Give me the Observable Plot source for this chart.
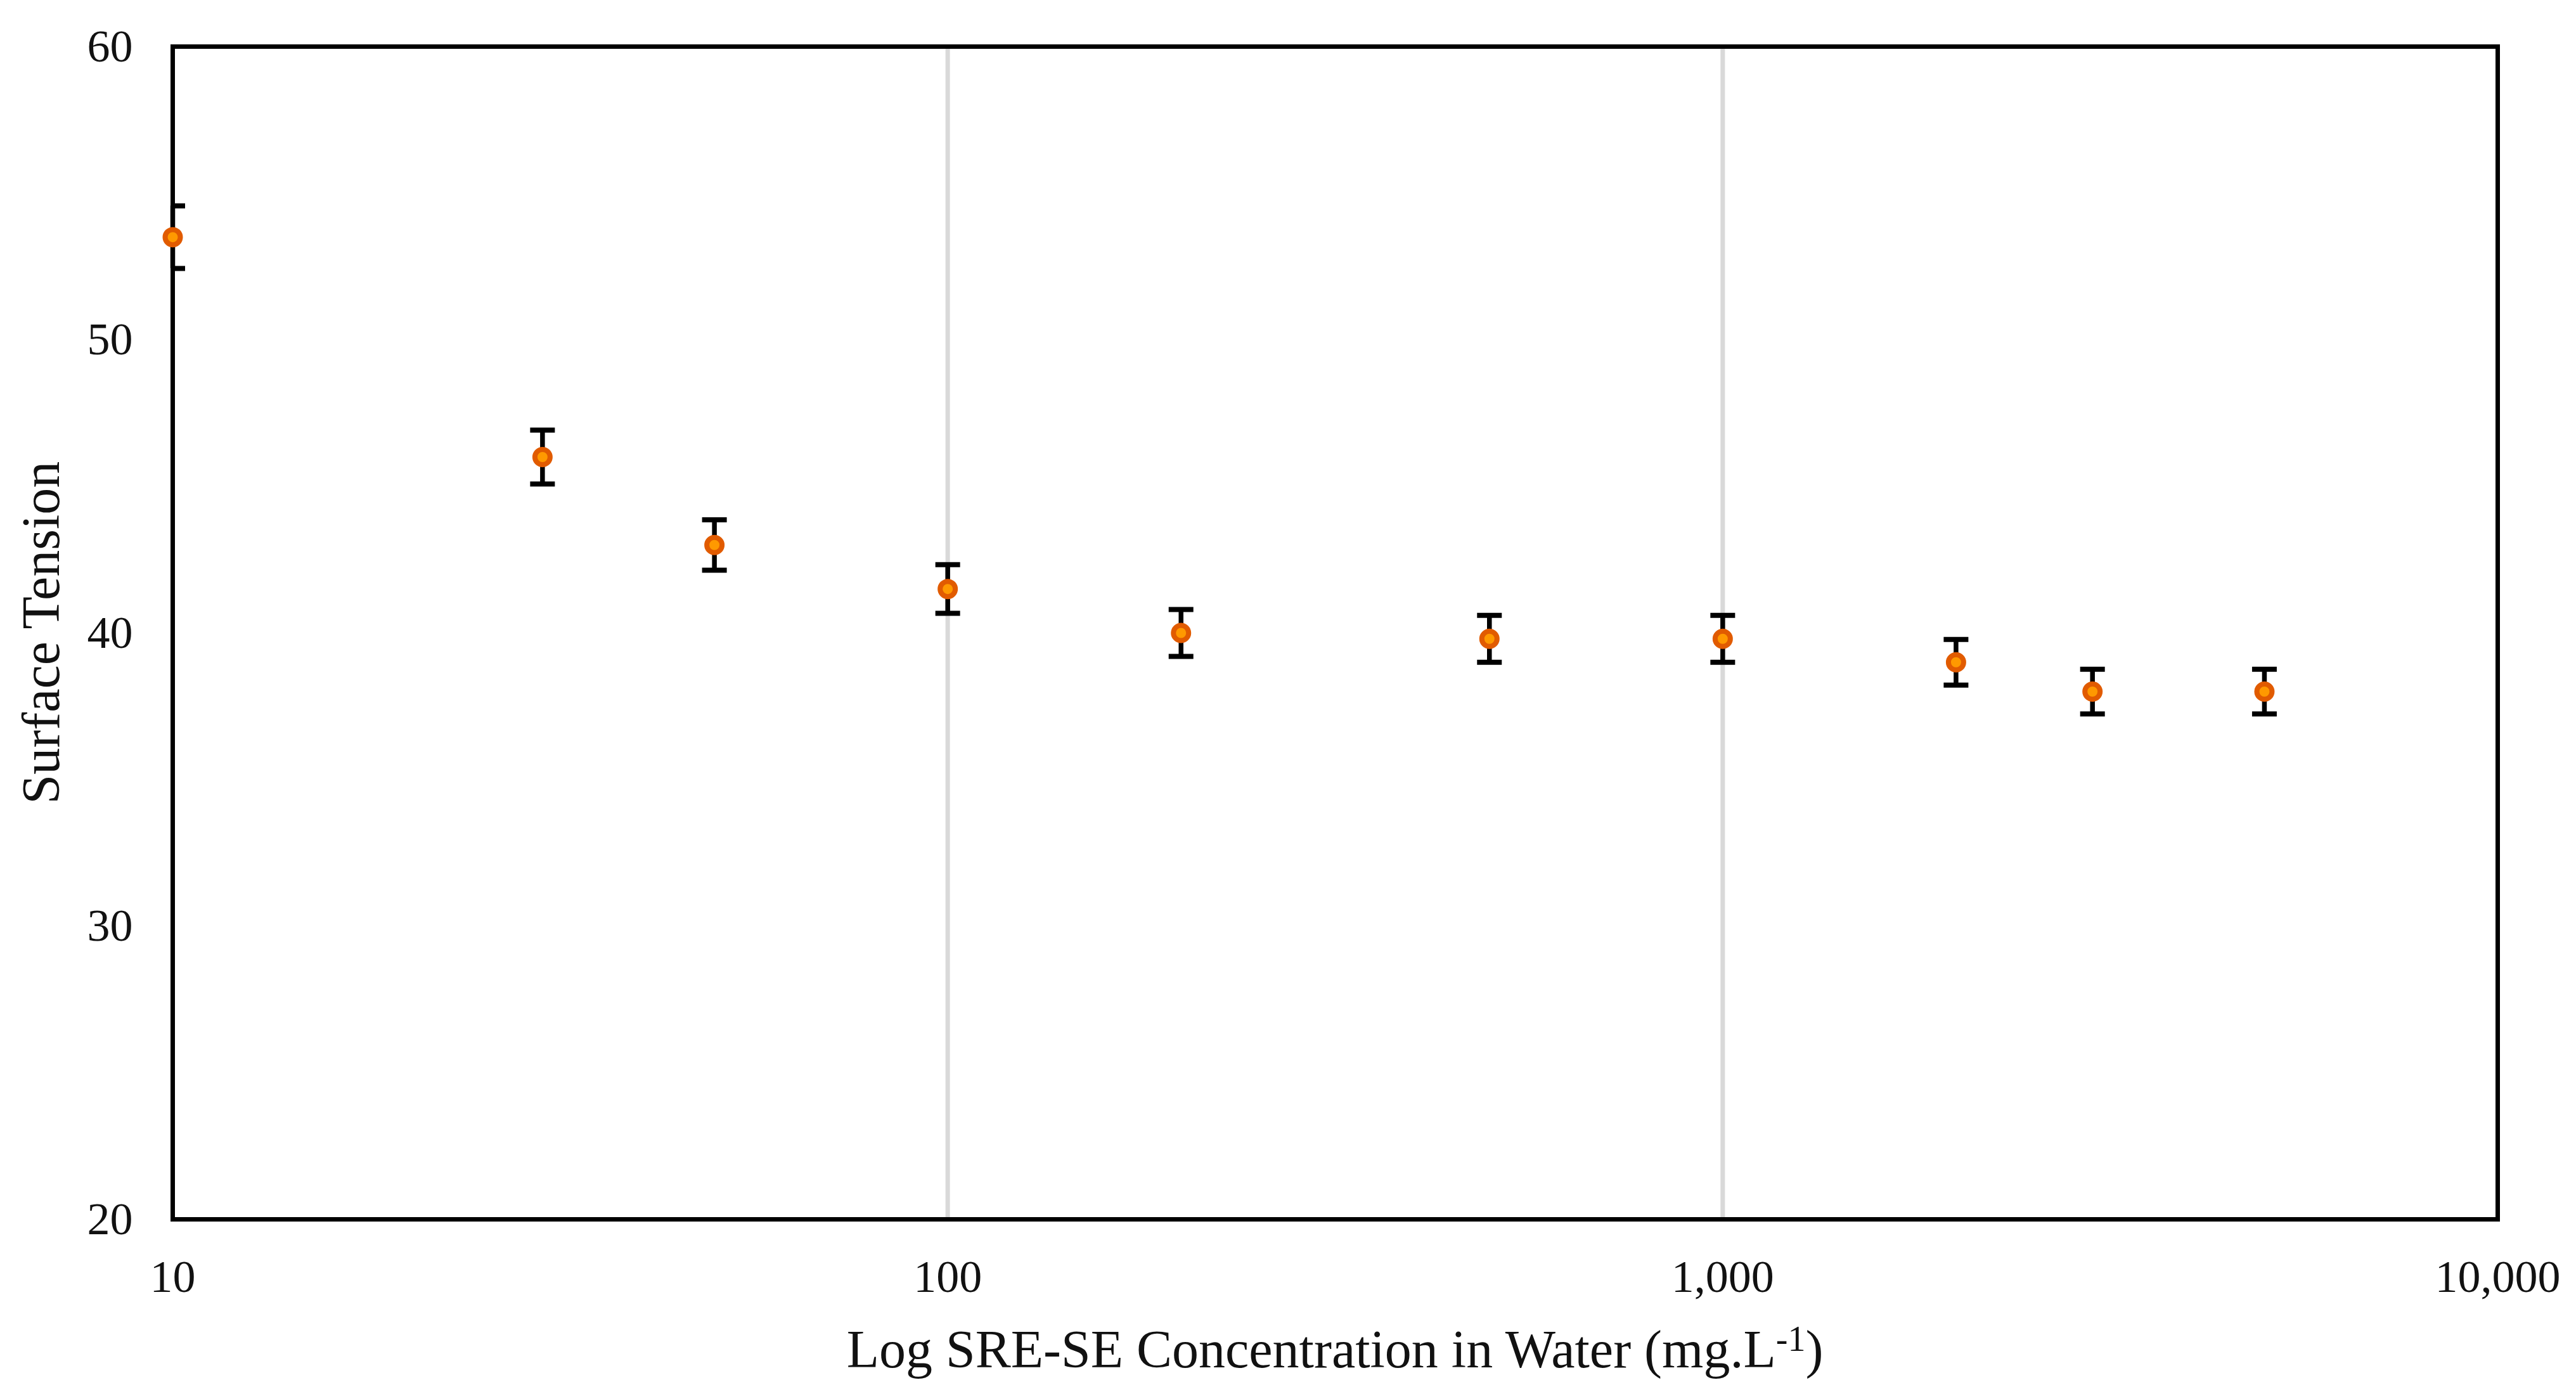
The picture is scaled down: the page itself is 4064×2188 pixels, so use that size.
<!DOCTYPE html>
<html>
<head>
<meta charset="utf-8">
<script src="https://cdn.jsdelivr.net/npm/d3@7"></script>
<script src="https://cdn.jsdelivr.net/npm/@observablehq/plot@0.6"></script>
<style>
  html, body { margin: 0; padding: 0; background: #fff; }
  #chart svg { display: block; }
</style>
</head>
<body>
<div id="chart"></div>
<script>
// Data
const concentrations = [10, 30, 50, 100, 200, 500, 1000, 2000, 3000, 5000];
const surfaceTension = [53.5, 46.0, 43.0, 41.5, 40.0, 39.8, 39.8, 39.0, 38.0, 38.0];
const errors = [1.07, 0.92, 0.86, 0.83, 0.80, 0.80, 0.80, 0.78, 0.76, 0.76];
const xTicks = [10, 100, 1000, 10000];
const yTicks = [20, 30, 40, 50, 60];
const gridX = [100, 1000];
const xTitle = "Log SRE-SE Concentration in Water (mg.L";
const xTitleSup = "-1";
const yTitle = "Surface Tension";

const data = concentrations.map((c, i) => ({
  c, v: surfaceTension[i], lo: surfaceTension[i] - errors[i], hi: surfaceTension[i] + errors[i]
}));

const W = 4064, H = 2188;
const mL = 272, mR = 124, mT = 73, mB = 265;

const capSymbol = {
  draw(ctx) { ctx.moveTo(-19.5, 0); ctx.lineTo(19.5, 0); }
};

const chart = Plot.plot({
  width: W,
  height: H,
  marginLeft: mL,
  marginRight: mR,
  marginTop: mT,
  marginBottom: mB,
  style: { fontFamily: "'Liberation Serif', 'Times New Roman', serif", background: "#fff", color: "#111" },
  x: { type: "log", domain: [10, 10000] },
  y: { domain: [20, 60] },
  marks: [
    Plot.ruleX(gridX, { stroke: "#D9D9D9", strokeWidth: 7 }),
    Plot.frame({ stroke: "#000", strokeWidth: 7 }),
    Plot.axisX(xTicks, { tickSize: 0, tickPadding: 63, fontSize: 72, tickFormat: d3.format(","), label: null }),
    Plot.axisY(yTicks, { tickSize: 0, tickPadding: 63, fontSize: 72, label: null }),
    Plot.ruleX(data, { x: "c", y1: "lo", y2: "hi", stroke: "#000", strokeWidth: 7.5 }),
    Plot.dot(data, { x: "c", y: "hi", symbol: capSymbol, stroke: "#000", strokeWidth: 8, fill: "none", clip: true }),
    Plot.dot(data, { x: "c", y: "lo", symbol: capSymbol, stroke: "#000", strokeWidth: 8, fill: "none", clip: true }),
    Plot.dot(data, { x: "c", y: "v", r: 12, fill: "#FF9900", stroke: "#E15B00", strokeWidth: 8 })
  ]
});

const svg = d3.select(chart);
const cx = mL + (W - mL - mR) / 2;
const cy = mT + (H - mT - mB) / 2;

const xt = svg.append("text")
  .attr("x", cx)
  .attr("y", 2157)
  .attr("text-anchor", "middle")
  .attr("font-size", 84)
  .attr("fill", "#111")
  .attr("font-family", "'Liberation Serif', 'Times New Roman', serif");
xt.append("tspan").text(xTitle);
xt.append("tspan").attr("font-size", 56).attr("dy", -26).text(xTitleSup);
xt.append("tspan").attr("dy", 26).text(")");

svg.append("text")
  .attr("transform", `translate(93,${cy}) rotate(-90)`)
  .attr("text-anchor", "middle")
  .attr("font-size", 84)
  .attr("fill", "#111")
  .attr("font-family", "'Liberation Serif', 'Times New Roman', serif")
  .text(yTitle);

document.getElementById("chart").appendChild(chart);
</script>
</body>
</html>
